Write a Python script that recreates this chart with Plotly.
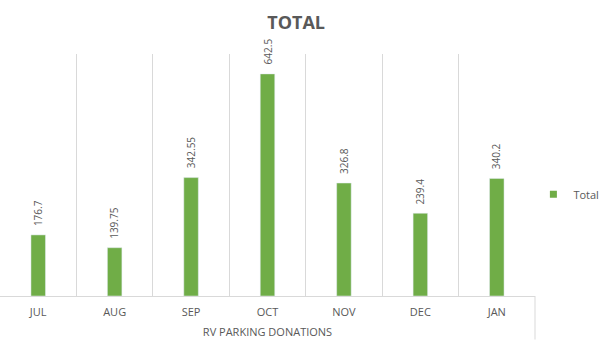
import plotly.graph_objects as go

months = ["JUL", "AUG", "SEP", "OCT", "NOV", "DEC", "JAN"]
totals = [176.7, 139.75, 342.55, 642.5, 326.8, 239.4, 340.2]
labels = ["176.7", "139.75", "342.55", "642.5", "326.8", "239.4", "340.2"]

grey = "#595959"
green = "#70AD47"
fig = go.Figure()
fig.add_trace(go.Bar(
    x=months, y=totals, name="Total",
    marker_color=green,
    cliponaxis=False, showlegend=False,
))
fig.add_trace(go.Scatter(
    x=[None], y=[None], name="Total", mode="markers",
    marker=dict(symbol="square", size=7, color=green),
))
for m, v, t in zip(months, totals, labels):
    fig.add_annotation(x=m, y=v, text=t, textangle=-90, showarrow=False,
                       xanchor="center", yanchor="bottom", yshift=7,
                       font=dict(size=10, color=grey))
fig.update_layout(
    width=608, height=347,
    margin=dict(l=0, r=73, t=54, b=51, autoexpand=False),
    paper_bgcolor="white", plot_bgcolor="white",
    font=dict(family="Open Sans, Noto Sans, sans-serif", color=grey),
    title=dict(text="<b>TOTAL</b>", x=0.487, xanchor="center", y=0.935, yanchor="middle",
               font=dict(size=18, color=grey)),
    bargap=0.81,
    showlegend=True,
    legend=dict(x=0.997, xanchor="left", y=0.42, yanchor="middle",
                font=dict(size=11, color=grey), itemwidth=30, tracegroupgap=0),
    xaxis=dict(
        tickson="boundaries", showgrid=True, gridcolor="#d9d9d9", gridwidth=1,
        showline=True, linecolor="#d9d9d9", linewidth=1,
        ticks="", tickfont=dict(size=11, color=grey), ticklabelstandoff=6,
        title=dict(text="RV PARKING DONATIONS", font=dict(size=11, color=grey), standoff=10),
    ),
    yaxis=dict(range=[0, 700], visible=False, showgrid=False),
)
fig.add_shape(type="line", xref="paper", yref="paper", x0=1, x1=1, y0=0, y1=-0.18,
              line=dict(color="#d9d9d9", width=1))
fig.write_html("out.html")
